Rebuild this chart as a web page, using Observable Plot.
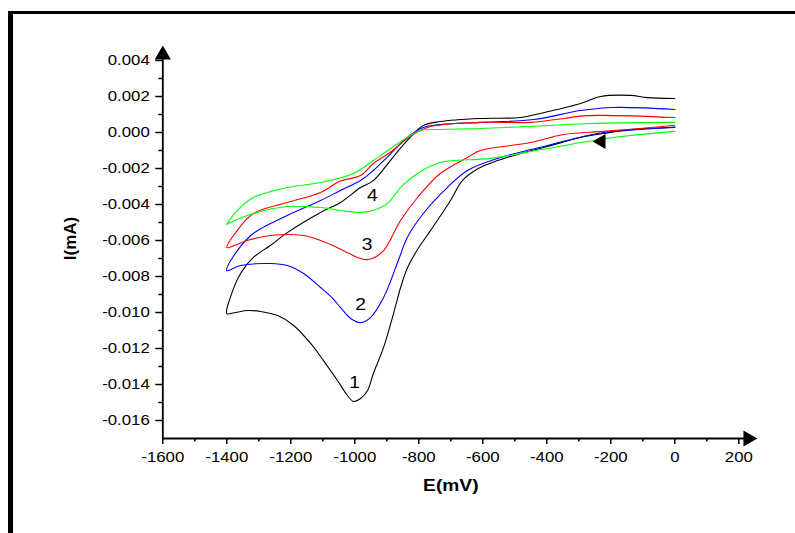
<!DOCTYPE html>
<html>
<head>
<meta charset="utf-8">
<script src="https://cdn.jsdelivr.net/npm/d3@7"></script>
<script src="https://cdn.jsdelivr.net/npm/@observablehq/plot@0.6"></script>
<style>
  html, body { margin: 0; padding: 0; background: #fff; overflow: hidden; }
  #wrap { position: relative; width: 795px; height: 533px; }
  #frame { position: absolute; left: 8px; top: 11px; width: 800px; height: 540px;
           border-left: 5px solid #000; border-top: 3px solid #000; pointer-events: none; box-sizing: border-box; }
  #chart { position: absolute; left: 0; top: 0; }
</style>
</head>
<body>
<div id="wrap"><div id="chart"></div><div id="frame"></div></div>
<script>
// Curve 1 (black)
const E1 = [0,-139,-223,-295,-398,-482,-554,-614,-664,-701,-763,-804,-835,-855,-879,-910,-942,-960,-982,-1004,-1023,-1054,-1098,-1138,-1191,-1241,-1295,-1336,-1373,-1400,
            -1389,-1357,-1317,-1264,-1211,-1107,-1045,-982,-942,-889,-836,-786,-733,-608,-482,-420,-295,-232,-139,-86,0];
const I1 = [0.00028,0.00017,-0.00006,-0.00028,-0.00078,-0.00117,-0.00156,-0.0020,-0.00267,-0.00378,-0.00544,-0.0065,-0.0075,-0.0085,-0.01006,-0.01194,-0.01339,-0.01433,-0.01478,-0.01494,-0.01461,-0.01378,-0.01267,-0.01172,-0.01072,-0.01017,-0.00994,-0.00989,-0.0100,-0.01006,
            -0.00917,-0.00783,-0.00694,-0.00628,-0.00556,-0.00444,-0.00389,-0.00306,-0.00267,-0.00156,-0.00044,0.00039,0.00061,0.00078,0.00083,0.00106,0.00161,0.002,0.00206,0.00194,0.00189];
// Curve 2 (blue)
const E2 = [0,-107,-223,-273,-398,-554,-648,-711,-786,-836,-864,-910,-951,-982,-1013,-1045,-1070,-1107,-1160,-1211,-1264,-1357,-1400,
            -1367,-1317,-1211,-1107,-1045,-982,-942,-889,-836,-786,-733,-608,-441,-295,-192,0];
const I2 = [0.0003,0.00017,0,-0.00017,-0.00072,-0.00144,-0.00211,-0.00306,-0.0045,-0.00583,-0.00711,-0.00917,-0.01028,-0.01056,-0.01033,-0.00972,-0.0092,-0.00861,-0.00783,-0.00739,-0.00728,-0.00739,-0.00767,
            -0.00656,-0.00561,-0.00461,-0.00378,-0.00322,-0.00267,-0.00211,-0.0012,-0.00028,0.00028,0.00044,0.00056,0.00072,0.00122,0.00139,0.00128];
// Curve 3 (red)
const E3 = [0,-107,-223,-348,-451,-608,-648,-733,-804,-857,-910,-945,-967,-992,-1020,-1054,-1107,-1160,-1264,-1336,-1400,
            -1367,-1317,-1211,-1107,-1045,-982,-942,-889,-836,-773,-608,-451,-348,-273,0];
const I3 = [0.0004,0.00022,0.00006,-0.00011,-0.00056,-0.001,-0.00139,-0.00228,-0.00361,-0.00489,-0.00656,-0.007,-0.00706,-0.00694,-0.0067,-0.0064,-0.006,-0.00572,-0.00572,-0.006,-0.00639,
            -0.00544,-0.0045,-0.00389,-0.00333,-0.0027,-0.00239,-0.00172,-0.0011,-0.00033,0.00028,0.00056,0.00056,0.00078,0.00094,0.00083];
// Curve 4 (green)
const E4 = [0,-192,-398,-576,-733,-804,-857,-898,-942,-982,-1045,-1107,-1211,-1317,-1389,-1400,
            -1367,-1317,-1211,-1107,-1004,-942,-889,-836,-795,-733,-608,-398,-264,0];
const I4 = [0.00006,-0.00028,-0.00089,-0.00144,-0.00167,-0.00228,-0.00306,-0.00394,-0.00433,-0.00444,-0.00433,-0.00417,-0.00411,-0.0045,-0.005,-0.00511,
            -0.00433,-0.00361,-0.00306,-0.00278,-0.00228,-0.00156,-0.0009,-0.00028,0.00011,0.00017,0.00022,0.00039,0.0005,0.00056];

const curveNames = ["1", "2", "3", "4"];
const curveColors = ["#000000", "#0000ff", "#ff0000", "#00ff00"];
// curve number labels (position in data units)
const labelE = [-1001, -982, -962, -945];
const labelI = [-0.01389, -0.00956, -0.00622, -0.00350];

// axis ticks
const xTicks = [-1600, -1400, -1200, -1000, -800, -600, -400, -200, 0, 200];
const xMinor = [-1500, -1300, -1100, -900, -700, -500, -300, -100, 100];
const yTicks = [-0.016, -0.014, -0.012, -0.010, -0.008, -0.006, -0.004, -0.002, 0.000, 0.002, 0.004];
const yMinor = [-0.015, -0.013, -0.011, -0.009, -0.007, -0.005, -0.003, -0.001, 0.001, 0.003];

// scan direction arrow
const scanArrow = [{E: -230, I: -0.0005}];

const Es = [E1, E2, E3, E4], Is = [I1, I2, I3, I4];
const tables = Es.map((E, k) => E.map((e, i) => ({E: e, I: Is[k][i], curve: curveNames[k]})));
const labels = curveNames.map((n, k) => ({E: labelE[k], I: labelI[k], text: n}));

const xMin = -1600, yMin = -0.017;

const chart = Plot.plot({
  width: 795, height: 533,
  marginLeft: 162.3, marginRight: 40.7, marginTop: 47.4, marginBottom: 95,
  x: {domain: [-1600, 250]},
  y: {domain: [-0.017, 0.0047]},
  style: {fontFamily: "'Liberation Sans', Arial, sans-serif", fontSize: "14px", background: "transparent", color: "#000"},
  marks: [
    Plot.axisX({ticks: xTicks, tickSize: 6, tickPadding: 8, tickFormat: d => String(d), label: null, strokeWidth: 1.5, fontSize: 14}),
    Plot.axisX({ticks: xMinor, tickSize: 3.5, text: null, label: null, strokeWidth: 1.5}),
    Plot.axisY({ticks: yTicks, tickSize: 7, tickPadding: 6, tickFormat: d => d.toFixed(3), label: null, strokeWidth: 1.5, fontSize: 14}),
    Plot.axisY({ticks: yMinor, tickSize: 4, text: null, label: null, strokeWidth: 1.5}),
    Plot.ruleY([yMin], {x1: xMin, x2: 235, strokeWidth: 1.8}),
    Plot.ruleX([xMin], {y1: yMin, y2: 0.0043, strokeWidth: 1.8}),
    Plot.dot([{E: xMin, I: 0.00432}], {x: "E", y: "I", symbol: "triangle", r: 6, fill: "#000", stroke: null}),
    Plot.dot([{E: 229, I: yMin}], {x: "E", y: "I", symbol: "triangle", r: 6, fill: "#000", stroke: null, rotate: 90}),
    ...tables.map((t, k) => Plot.line(t, {x: "E", y: "I", stroke: curveColors[k], strokeWidth: 1.1, curve: "catmull-rom"})),
    Plot.dot(scanArrow, {x: "E", y: "I", symbol: "triangle", r: 5.5, fill: "#000", stroke: null, rotate: -90}),
    Plot.text(labels, {x: "E", y: "I", text: "text", fontSize: 16, fill: "#000"}),
    Plot.text(["E(mV)"], {frameAnchor: "bottom", dx: -8, dy: 47, fontWeight: "bold", fontSize: 16, lineAnchor: "middle"}),
    Plot.text(["I(mA)"], {frameAnchor: "left", dx: -92, dy: 17, rotate: -90, fontWeight: "bold", fontSize: 17, lineAnchor: "middle"})
  ]
});

chart.querySelectorAll("text").forEach(t => {
  const tr = t.getAttribute("transform");
  if (tr && tr.startsWith("translate") && !tr.includes("rotate")) t.setAttribute("transform", tr + " scale(1.2,1)");
});

document.getElementById("chart").appendChild(chart);
</script>
</body>
</html>
